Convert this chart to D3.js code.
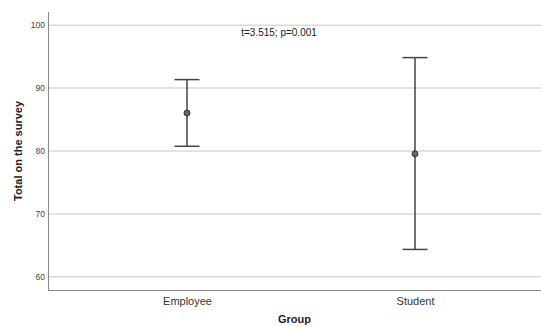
<!DOCTYPE html>
<html><head><meta charset="utf-8">
<script src="https://cdn.jsdelivr.net/npm/d3@7"></script>
<style>body{margin:0;background:#fff}svg{display:block}</style>
</head><body>
<svg id="c" width="541" height="327"></svg>
<script>
const categories = ["Employee", "Student"];
const means = [86.05, 79.55];
const lower = [80.75, 64.35];
const upper = [91.35, 94.85];
const yTicks = [60, 70, 80, 90, 100];
const annotation = "t=3.515; p=0.001";

(function () {
const svg = d3.select("#c");
const pL = 48, pR = 541, pT = 12, pB = 290;
const font = "Arial, 'Liberation Sans', sans-serif";

const y = d3.scaleLinear().domain([57.9, 102.1]).range([pB, pT]);
const x = d3.scalePoint().domain(categories).range([73, 529]).padding(0.5);

// gridlines
svg.append("g").selectAll("line").data(yTicks).join("line")
  .attr("x1", pL).attr("x2", pR)
  .attr("y1", d => y(d)).attr("y2", d => y(d))
  .attr("stroke", "#d9d9d9").attr("stroke-width", 1.5);

// y axis
const ya = svg.append("g").attr("transform", `translate(${pL},0)`)
  .call(d3.axisLeft(y).tickValues(yTicks).tickSize(0).tickPadding(3));
ya.select(".domain").remove();
ya.selectAll("text").attr("font-family", font).attr("font-size", 8.5).attr("fill", "#444");

// x axis
const xa = svg.append("g").attr("transform", `translate(0,${pB})`)
  .call(d3.axisBottom(x).tickSize(0).tickPadding(7));
xa.select(".domain").remove();
xa.selectAll("text").attr("font-family", font).attr("font-size", 11).attr("fill", "#333");

// axis lines
svg.append("line").attr("x1", pL + 0.5).attr("x2", pL + 0.5).attr("y1", pT).attr("y2", pB)
  .attr("stroke", "#888").attr("stroke-width", 1);
svg.append("line").attr("x1", pL).attr("x2", pR).attr("y1", pB + 0.5).attr("y2", pB + 0.5)
  .attr("stroke", "#888").attr("stroke-width", 1);

// error bars
const data = categories.map((c, i) => ({c, m: means[i], lo: lower[i], hi: upper[i]}));
const g = svg.append("g");
const capW = 12.5;
g.selectAll(".v").data(data).join("line").attr("class", "v")
  .attr("x1", d => x(d.c)).attr("x2", d => x(d.c))
  .attr("y1", d => y(d.hi)).attr("y2", d => y(d.lo))
  .attr("stroke", "#444").attr("stroke-width", 1.5);
g.selectAll(".t").data(data).join("line").attr("class", "t")
  .attr("x1", d => x(d.c) - capW).attr("x2", d => x(d.c) + capW)
  .attr("y1", d => y(d.hi)).attr("y2", d => y(d.hi))
  .attr("stroke", "#444").attr("stroke-width", 1.5);
g.selectAll(".b").data(data).join("line").attr("class", "b")
  .attr("x1", d => x(d.c) - capW).attr("x2", d => x(d.c) + capW)
  .attr("y1", d => y(d.lo)).attr("y2", d => y(d.lo))
  .attr("stroke", "#444").attr("stroke-width", 1.5);
g.selectAll("circle").data(data).join("circle")
  .attr("cx", d => x(d.c)).attr("cy", d => y(d.m)).attr("r", 3)
  .attr("fill", "#666").attr("stroke", "#333").attr("stroke-width", 1);

// annotation
svg.append("text").attr("x", 279).attr("y", 36).attr("text-anchor", "middle")
  .attr("font-family", font).attr("font-size", 10).attr("fill", "#222").text(annotation);

// titles
svg.append("text").attr("x", (pL + pR) / 2).attr("y", 323).attr("text-anchor", "middle")
  .attr("font-family", font).attr("font-size", 11).attr("font-weight", "bold").attr("fill", "#222").text("Group");
svg.append("text").attr("transform", `translate(22,${(pT + pB) / 2}) rotate(-90)`)
  .attr("text-anchor", "middle")
  .attr("font-family", font).attr("font-size", 11).attr("font-weight", "bold").attr("fill", "#222").text("Total on the survey");
})();
</script>
</body></html>
